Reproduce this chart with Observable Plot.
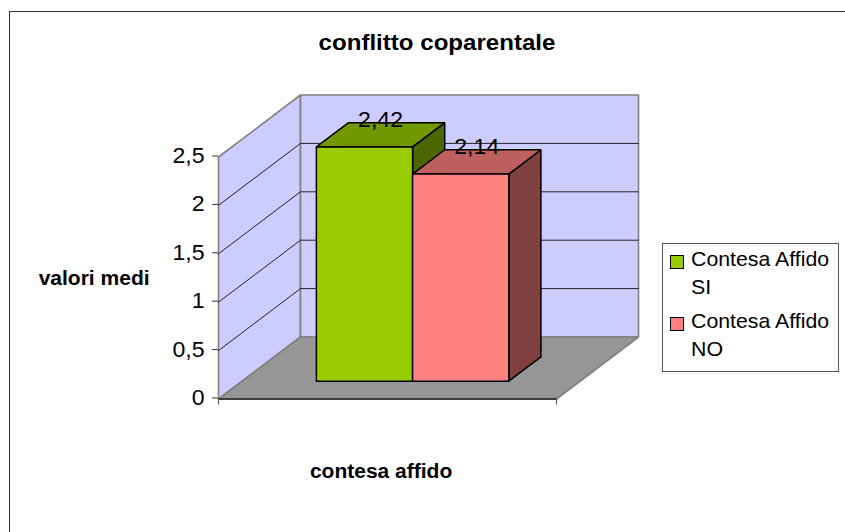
<!DOCTYPE html>
<html>
<head>
<meta charset="utf-8">
<script src="https://cdn.jsdelivr.net/npm/d3@7"></script>
<script src="https://cdn.jsdelivr.net/npm/@observablehq/plot@0.6"></script>
<style>
  html, body { margin: 0; padding: 0; background: #fff; overflow: hidden; }
  body { width: 845px; height: 532px; position: relative; font-family: "Liberation Sans", Arial, sans-serif; color: #000; }
  #frame { position: absolute; left: 9px; top: 11px; width: 900px; height: 600px; border-top: 1.5px solid #333; border-left: 1.5px solid #333; pointer-events: none; }
  #chart { position: absolute; left: 0; top: 0; }
  #title { position: absolute; left: 436.5px; top: 31px; font-weight: bold; font-size: 22.5px; line-height: 24px; white-space: nowrap; transform: translateX(-50%) scaleX(1.07); }
  #legend { position: absolute; left: 661.5px; top: 243px; width: 175.5px; height: 127px; border: 1px solid #555; background: #fff; box-sizing: content-box; }
  .entry { position: absolute; left: 7px; }
  .swatch { position: absolute; left: 0; top: 3px; width: 12px; height: 12px; border: 1.5px solid #000; }
  .label { position: absolute; left: 21.5px; top: -6px; width: 132px; font-size: 20.3px; line-height: 27.5px; transform: scaleX(1.05); transform-origin: left top; }
</style>
</head>
<body>
<div id="chart"></div>
<div id="title"></div>
<div id="legend"></div>
<div id="frame"></div>
<script>
const chartTitle = "conflitto coparentale";
const yAxisName = "valori medi";
const xAxisName = "contesa affido";
const seriesNames = ["Contesa Affido SI", "Contesa Affido NO"];
const seriesValues = [2.42, 2.14];
const valueLabels = ["2,42", "2,14"];
const seriesColors = ["#99CC00", "#FF8080"];
const sideColors = ["#4C6600", "#804040"];
const topColors = ["#739900", "#BF6060"];
const yTicks = [0, 0.5, 1, 1.5, 2, 2.5];
const xEdges = [0, 1];

// Oblique projection of the 3-D plot box into the scales' own units
const yMax = 2.5;
const depthX = 0.2426;   // x units gained at the back of the box
const depthY = 0.6405;   // y units gained at the back of the box
const barStart = 0.22, barWidth = 0.2846;
const barFront = 0.287, barBack = 0.679;

const pt = (u, v, d) => ({x: u + d * depthX, y: v + d * depthY});
const poly = (pts, opts) => Plot.line([...pts, pts[0]], {x: "x", y: "y", curve: "linear", strokeLinejoin: "miter", ...opts});

const wallStyle = {fill: "#CCCCFF", stroke: "#808080", strokeWidth: 1.6};
const marks = [
  poly([pt(0,0,0), pt(0,yMax,0), pt(0,yMax,1), pt(0,0,1)], wallStyle),
  poly([pt(0,0,1), pt(0,yMax,1), pt(1,yMax,1), pt(1,0,1)], wallStyle),
  poly([pt(0,0,0), pt(1,0,0), pt(1,0,1), pt(0,0,1)], {fill: "#969696", stroke: "#808080", strokeWidth: 1.6})
];

for (const v of yTicks.filter(t => t > 0 && t < yMax)) {
  marks.push(Plot.line([pt(0,v,0), pt(0,v,1), pt(1,v,1)], {x: "x", y: "y", stroke: "#222", strokeWidth: 1}));
}
marks.push(Plot.line([pt(0,0,0), pt(1,0,0)], {x: "x", y: "y", stroke: "#222", strokeWidth: 1.5}));

marks.push(
  Plot.axisY(yTicks, {tickSize: 6, tickPadding: 8, stroke: "#333", fontSize: 22, dy: -1, tickFormat: t => String(t).replace(".", ","), label: null}),
  Plot.axisX(xEdges, {tickSize: 6, stroke: "#555", tickFormat: () => "", label: null})
);

const barStyle = {stroke: "#000", strokeWidth: 1.5};
seriesValues.forEach((value, i) => {
  const a = barStart + i * barWidth, b = a + barWidth;
  marks.push(
    poly([pt(b,0,barFront), pt(b,0,barBack), pt(b,value,barBack), pt(b,value,barFront)], {fill: sideColors[i], ...barStyle}),
    poly([pt(a,value,barFront), pt(b,value,barFront), pt(b,value,barBack), pt(a,value,barBack)], {fill: topColors[i], ...barStyle}),
    poly([pt(a,0,barFront), pt(b,0,barFront), pt(b,value,barFront), pt(a,value,barFront)], {fill: seriesColors[i], ...barStyle})
  );
});

const labelDepth = (barFront + barBack) / 2;
marks.push(
  Plot.text(seriesValues.map((value, i) => ({
    ...pt(barStart + (i + 0.5) * barWidth, value, labelDepth), text: valueLabels[i]
  })), {x: "x", y: "y", text: "text", dy: -15, fontSize: 22, fill: "#000"}),
  Plot.text([yAxisName], {x: -0.368, y: 1.245, text: d => d, fontSize: 20, fontWeight: "bold", fill: "#000"}),
  Plot.text([xAxisName], {x: 0.481, y: -0.75, text: d => d, fontSize: 20, fontWeight: "bold", fill: "#000"})
);

const chart = Plot.plot({
  width: 845,
  height: 532,
  marginLeft: 218,
  marginRight: 289,
  marginTop: 156.5,
  marginBottom: 133.5,
  style: {background: "transparent", fontFamily: "'Liberation Sans', Arial, sans-serif"},
  x: {domain: [0, 1], label: null},
  y: {domain: [0, yMax], label: null},
  marks
});
document.getElementById("chart").append(chart);

// The reference's type is drawn slightly wider than its natural proportions
chart.querySelectorAll("text").forEach(t => {
  const len = t.getComputedTextLength();
  if (len > 0) {
    t.setAttribute("textLength", len * 1.05);
    t.setAttribute("lengthAdjust", "spacingAndGlyphs");
  }
});

document.getElementById("title").textContent = chartTitle;
const legend = d3.select("#legend");
seriesNames.forEach((name, i) => {
  const e = legend.append("div").attr("class", "entry").style("top", (i === 0 ? 8 : 70) + "px");
  e.append("div").attr("class", "swatch").style("background", seriesColors[i]);
  e.append("div").attr("class", "label").text(name);
});
</script>
</body>
</html>
